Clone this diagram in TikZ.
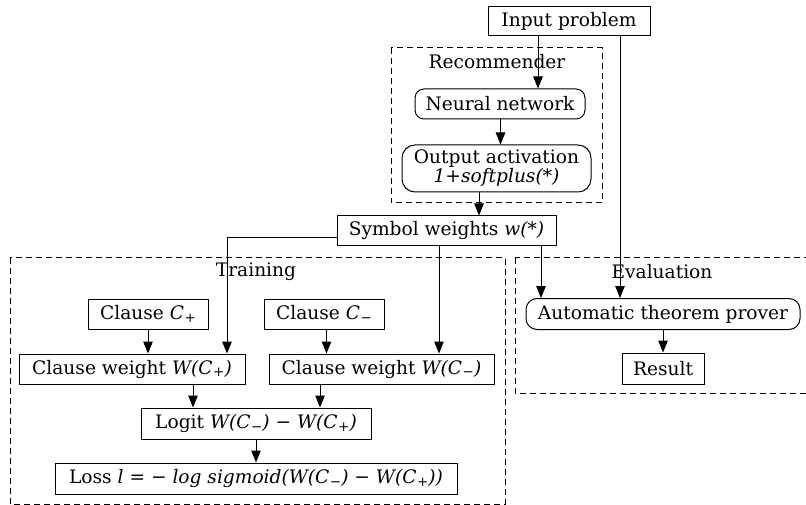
\documentclass[tikz,border=0pt]{standalone}
\usepackage{fontspec}
\setmainfont{DejaVu Serif}
\usetikzlibrary{arrows.meta}
\newcommand\sbx[1]{\kern0.5pt\raisebox{-0.3ex}{\fontsize{13.5}{13.5}\selectfont #1}}
\begin{document}
\begin{tikzpicture}[x=1pt,y=-1pt,
  every node/.style={font=\fontsize{18.6}{19}\selectfont},
  box/.style={draw,line width=1pt,inner sep=0pt,align=center},
  rbox/.style={box,rounded corners=9pt},
  cluster/.style={draw,dash pattern=on 6pt off 4pt,line width=1pt},
  clab/.style={inner sep=0pt},
  arr/.style={line width=1pt,-{Triangle[length=12pt,width=9.5pt]}}]
\useasboundingbox (0,0) rectangle (806,505);
% clusters
\draw[cluster] (391,48) rectangle (602,203);
\node[clab] (lrec) at (497,62) {Recommender};
\draw[cluster] (10,258) rectangle (505,504);
\node[clab] (ltrain) at (256,272) {Training};
\draw[cluster] (515,258) rectangle (812,393.5);
\node[clab] (leval) at (662,272) {Evaluation};
% nodes
\node[box,minimum width=162,minimum height=29] (input) at (569,21.5) {Input problem};
\node[rbox,minimum width=170,minimum height=30] (nn) at (500,104) {Neural network};
\node[rbox,rounded corners=13pt,minimum width=189,minimum height=47] (oa) at (496.5,168.5) {Output activation\\\textit{1+softplus(*)}};
\node[box,minimum width=219,minimum height=30] (sw) at (446.5,231) {Symbol weights \textit{w(*)}};
\node[box,minimum width=120,minimum height=30] (cp) at (148,314) {Clause \textit{C\sbx{+}}};
\node[box,minimum width=120,minimum height=30] (cm) at (324,314) {Clause \textit{C\sbx{−}}};
\node[box,minimum width=226,minimum height=30] (cwp) at (132,369) {Clause weight \textit{W(C\sbx{+})}};
\node[box,minimum width=225,minimum height=30] (cwm) at (381.5,369) {Clause weight \textit{W(C\sbx{−})}};
\node[box,minimum width=230,minimum height=31] (logit) at (256,423.5) {Logit \textit{W(C\sbx{−}) − W(C\sbx{+})}};
\node[box,minimum width=402,minimum height=31] (loss) at (256,478.5) {Loss \textit{l} = \textit{− log sigmoid(W(C\sbx{−}) − W(C\sbx{+}))}};
\node[rbox,rounded corners=11pt,minimum width=274,minimum height=31] (atp) at (663,314) {Automatic theorem prover};
\node[box,minimum width=82,minimum height=31] (res) at (663,368.5) {Result};
% columns
\coordinate (c1) at (538,0);
\coordinate (c2) at (620,0);
\coordinate (c3) at (500.5,0);
\coordinate (c4) at (479,0);
\coordinate (c5) at (541,0);
\coordinate (c6) at (439,0);
\coordinate (k) at (227,237.5);
\coordinate (c8) at (148,0);
\coordinate (c9) at (326.5,0);
\coordinate (c10) at (193,0);
\coordinate (c11) at (320,0);
\coordinate (c12) at (256,0);
\coordinate (c13) at (663,0);
% edges
\draw[arr] (input.south -| c1) -- (nn.north -| c1);
\draw[arr] (input.south -| c2) -- (atp.north -| c2);
\draw[arr] (nn.south -| c3) -- (oa.north -| c3);
\draw[arr] (oa.south -| c4) -- (sw.north -| c4);
\draw[arr] (sw.south -| c5) -- (atp.north -| c5);
\draw[arr] (sw.south -| c6) -- (cwm.north -| c6);
\draw[arr] (sw.west |- k) -- (k) -- (cwp.north -| k);
\draw[arr] (cp.south -| c8) -- (cwp.north -| c8);
\draw[arr] (cm.south -| c9) -- (cwm.north -| c9);
\draw[arr] (cwp.south -| c10) -- (logit.north -| c10);
\draw[arr] (cwm.south -| c11) -- (logit.north -| c11);
\draw[arr] (logit.south -| c12) -- (loss.north -| c12);
\draw[arr] (atp.south -| c13) -- (res.north -| c13);
\end{tikzpicture}
\end{document}
